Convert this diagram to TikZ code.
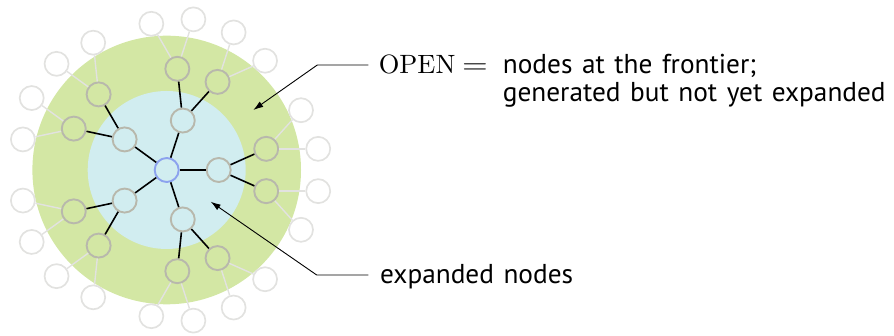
\documentclass[tikz,border=0pt]{standalone}
\usepackage{fontspec}
\newfontfamily\labelfont{PT Sans}
\newfontfamily\cmten{lmroman10-regular.otf}
\usetikzlibrary{calc,arrows.meta}

\newcommand\sanssetup{\fontsize{27.3}{28.4}\selectfont\labelfont\spaceskip=0.35em plus 0.1em\relax}

\definecolor{ringgreen}{RGB}{211,231,164}
\definecolor{coreblue}{RGB}{209,237,240}
\definecolor{nodegray}{RGB}{184,184,172}
\definecolor{outergray}{RGB}{226,226,224}
\definecolor{rootblue}{RGB}{140,162,238}

\tikzset{
  treenode/.style={circle, minimum size=24pt, inner sep=0pt, line width=1.9pt, draw=nodegray},
  rootnode/.style={treenode, draw=rootblue},
  leafnode/.style={treenode, draw=outergray, line width=1.7pt},
  edge/.style={line width=1.6pt, black},
  leafedge/.style={line width=1.4pt, outergray},
  callout/.style={line width=0.9pt, -{Latex[length=10pt,width=6.5pt]}},
  sanslabel/.style={font=\sanssetup, inner sep=0pt},
  romanlabel/.style={font=\fontsize{26.5}{28.4}\selectfont\cmten, inner sep=0pt}
}

\begin{document}
\begin{tikzpicture}[x=1pt, y=1pt]
  \useasboundingbox (0,0) rectangle (894,336);

  % search regions: frontier ring and expanded core
  \coordinate (ctr) at (166.7,166);
  \fill[ringgreen] (ctr) circle (134.3);
  \fill[coreblue] (ctr) circle (79);

  % root of the search tree
  \node[rootnode] (c) at (ctr) {};

  % five expanded children, each with two frontier nodes,
  % each of which has two generated-but-unseen successors
  \foreach \k in {0,...,4} {
    \pgfmathsetmacro\a{72*\k}
    \node[treenode] (n\k) at ($(c)+(\a:52)$) {};
    \draw[edge] (c) -- (n\k);
    \foreach \s/\t in {1/a,-1/b} {
      \pgfmathsetmacro\b{\a+24*\s}
      \node[treenode] (n\k\t) at ($(n\k)+(\b:52)$) {};
      \draw[edge] (n\k) -- (n\k\t);
      \foreach \r/\u in {1/a,-1/b} {
        \pgfmathsetmacro\g{\b+24*\r}
        \node[leafnode] (n\k\t\u) at ($(n\k\t)+(\g:52)$) {};
        \draw[leafedge] (n\k\t) -- (n\k\t\u);
      }
    }
  }

  % labels
  \node[romanlabel, anchor=base west] (openlbl) at (378.6,262.7)
    {OPEN\hspace{6.8pt}\scalebox{1.25}[1]{=}};
  \node[sanslabel, anchor=base west, align=left] (frontlbl) at (502.7,234.3)
    {nodes at the frontier;\\generated but not yet expanded};
  \node[sanslabel, anchor=base west] (explbl) at (380,52.7) {expanded nodes};

  % callout lines
  \coordinate (openstart) at (368.3,271);
  \coordinate (openbend) at (317.3,271);
  \coordinate (opentip) at (253.3,226);
  \draw[callout] (openstart) -- (openbend) -- (opentip);

  \coordinate (expstart) at (368.3,61);
  \coordinate (expbend) at (316.7,61);
  \coordinate (exptip) at (210.7,134.3);
  \draw[callout] (expstart) -- (expbend) -- (exptip);
\end{tikzpicture}
\end{document}
